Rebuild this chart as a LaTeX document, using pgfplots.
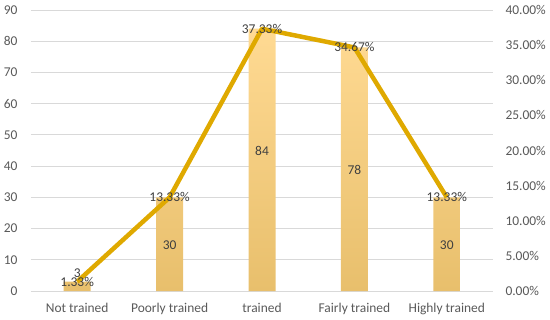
\documentclass[border=0pt]{standalone}
\usepackage{pgfplots}
\pgfplotsset{compat=1.18}
\usepackage{fontspec}
\setmainfont{Carlito}
\definecolor{gridc}{HTML}{D9D9D9}
\definecolor{txt}{HTML}{595959}
\definecolor{lbl}{HTML}{404040}
\definecolor{linec}{HTML}{DFA900}
\definecolor{bartop}{HTML}{FFDA93}
\definecolor{barbot}{HTML}{E8BF6C}
\newcommand{\cf}{\fontsize{13.5}{15}\selectfont}
\pgfplotsset{common/.style={
  scale only axis, width=462bp, height=281bp,
  xmin=-0.5, xmax=4.5, at={(0,0)}, anchor=south west,
  axis line style={draw=none}, major tick length=0pt,
  tick label style={font=\cf, text=txt},
  /pgf/number format/assume math mode=true,
  clip=false}}
\begin{document}
\begin{tikzpicture}
\useasboundingbox (-31bp,-29bp) rectangle (519bp,291bp);
\begin{axis}[common,
  ymin=0, ymax=90, ytick={0,10,...,90},
  ymajorgrids, grid style={gridc, line width=0.9bp},
  xtick={0,...,4},
  xticklabels={Not trained, Poorly trained, trained, Fairly trained, Highly trained},
  xticklabel style={yshift=-9bp},
  yticklabel style={xshift=-10bp},
  axis y line*=left, axis x line*=bottom]
\addplot[ybar, bar width=27bp, draw=none, top color=bartop, bottom color=barbot]
  coordinates {(0,3) (1,30) (2,84) (3,78) (4,30)};
\addplot[draw=none, mark=none, nodes near coords, point meta=explicit symbolic,
  nodes near coords style={anchor=center, font=\cf, text=lbl}]
  coordinates {(0,5.8)[3] (1,14.7)[30] (2,45)[84] (3,38.8)[78] (4,14.7)[30]};
\end{axis}
\begin{axis}[common,
  ymin=0, ymax=40, ytick={0,5,...,40},
  axis y line*=right, hide x axis,
  yticklabel={\pgfmathprintnumber[fixed,fixed zerofill,precision=2]{\tick}\%},
  yticklabel style={xshift=9bp}]
\addplot[linec, line width=4.5bp, line join=round, mark=none,
  nodes near coords, point meta=explicit symbolic,
  nodes near coords style={anchor=center, font=\cf, text=lbl}]
  coordinates {(0,1.33)[1.33\%] (1,13.33)[13.33\%] (2,37.33)[37.33\%] (3,34.67)[34.67\%] (4,13.33)[13.33\%]};
\end{axis}
\end{tikzpicture}
\end{document}
